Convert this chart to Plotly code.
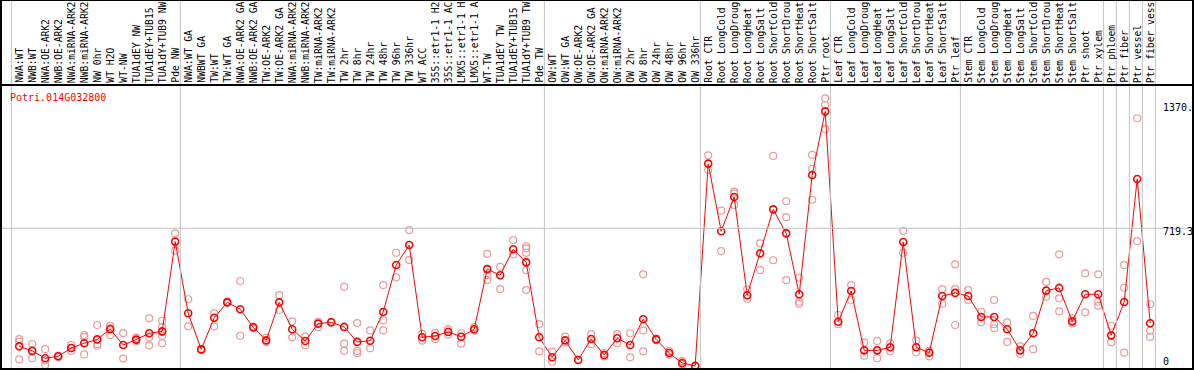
import plotly.graph_objects as go

title_text = "Potri.014G032800"

categories = [
    "NWA:WT", "NWB:WT", "NWA:OE-ARK2", "NWB:OE-ARK2", "NWA:miRNA-ARK2", "NWB:miRNA-ARK2",
    "NW 0hr", "WT H2O", "WT-NW", "TUA1dEY NW", "TUA1dEY+TUB15", "TUA1dY+TUB9 NW", "Pde NW",
    "NWA:WT GA", "NWBWT GA", "TW:WT", "TW:WT GA", "NWA:OE-ARK2 GA", "NWB:OE-ARK2 GA",
    "TW:OE-ARK2", "TW:OE-ARK2 GA", "NWA:miRNA-ARK2", "NWB:miRNA-ARK2", "TW:miRNA-ARK2",
    "TW:miRNA-ARK2", "TW 2hr", "TW 8hr", "TW 24hr", "TW 48hr", "TW 96hr", "TW 336hr",
    "WT ACC", "35S::etr1-1 H2", "35S::etr1-1 AC", "LMX5::etr1-1 H", "LMX5::etr1-1 A",
    "WT-TW", "TUA1dEY TW", "TUA1dEY+TUB15", "TUA1dY+TUB9 TW", "Pde TW",
    "OW:WT", "OW:WT GA", "OW:OE-ARK2", "OW:OE-ARK2 GA", "OW:miRNA-ARK2", "OW:miRNA-ARK2",
    "OW 2hr", "OW 8hr", "OW 24hr", "OW 48hr", "OW 96hr", "OW 336hr",
    "Root CTR", "Root LongCold", "Root LongDroug", "Root LongHeat", "Root LongSalt",
    "Root ShortCold", "Root ShortDrou", "Root ShortHeat", "Root ShortSalt", "Ptr root",
    "Leaf CTR", "Leaf LongCold", "Leaf LongDroug", "Leaf LongHeat", "Leaf LongSalt",
    "Leaf ShortCold", "Leaf ShortDrou", "Leaf ShortHeat", "Leaf ShortSalt", "Ptr leaf",
    "Stem CTR", "Stem LongCold", "Stem LongDroug", "Stem LongHeat", "Stem LongSalt",
    "Stem ShortCold", "Stem ShortDrou", "Stem ShortHeat", "Stem ShortSalt", "Ptr shoot",
    "Ptr xylem", "Ptr phloem", "Ptr fiber", "Ptr vessel", "Ptr fiber vess",
]

mean_values = [
    105, 81, 43, 53, 96, 121, 141, 194, 112, 140, 173, 183, 650,
    277, 89, 254, 334, 298, 204, 136, 334, 194, 133, 223, 230, 206, 128, 134, 284,
    528, 632, 152, 159, 180, 155, 194, 507, 475, 610, 542, 152,
    48, 136, 34, 143, 60, 147, 112, 246, 141, 70, 18, 3,
    1056, 704, 882, 371, 589, 818, 693, 376, 997, 1328,
    233, 393, 84, 84, 100, 648, 100, 72, 367, 383,
    367, 258, 258, 194, 84, 173, 395, 409, 235, 376, 376, 162, 336, 976, 225,
]

replicate_values = [
    [143, 129, 37], [117, 43, 85], [90, 32, 8], [50, 57], [112, 81, 96], [164, 154, 63],
    [216, 117, 108], [212, 164, 200], [174, 41], [150, 138, 132], [251, 152, 110],
    [238, 207, 181, 160, 121], [693, 603],
    [350, 209], [92, 86], [278, 209], [330, 338], [445, 160], [208, 200], [150, 127],
    [372, 294], [235, 152], [155, 110], [233, 204], [232, 228], [414, 119, 81],
    [226, 81, 69], [188, 95], [424, 240, 188], [592, 464], [710, 554], [170, 135],
    [175, 143], [195, 166], [173, 119], [205, 187], [586, 476, 450], [519, 403],
    [658, 584], [626, 615, 592, 501, 398], [221, 79],
    [77, 25], [155, 125], [34], [168, 116], [70, 52], [168, 121], [173, 48],
    [480, 188, 79], [145, 137], [80, 62], [28, 12], [3],
    [1099, 1023], [811, 601], [910, 901, 841], [402, 353], [641, 502], [1096, 553],
    [860, 777, 450], [462, 337, 327], [1101, 1028, 868], [1396, 1361, 1236],
    [268, 220], [424, 346], [126, 56], [133, 43], [121, 79], [705, 592], [136, 74],
    [82, 53], [403, 327], [532, 403, 216],
    [398, 346], [285, 230], [346, 220, 199], [230, 128], [105, 65], [263, 90],
    [440, 363], [584, 355, 287], [251, 224], [485, 282], [480, 337, 316], [212, 126],
    [528, 410, 72], [1292, 653], [324, 188, 154],
]

# indices after which a grey separator line is drawn
separator_after = [-1, 12, 40, 52, 62, 72, 83, 84, 85, 86, 87]

y_tick_values = [1370.0, 719.3, 0]
y_tick_labels = ["1370.", "719.3", "0"]
y_tick_shift = [-4.4, -3.4, 4.8]

W, H = 1194, 370
MONO = "DejaVu Sans Mono"

x_idx = list(range(len(categories)))

rep_x, rep_y = [], []
for i, reps in enumerate(replicate_values):
    for v in reps:
        rep_x.append(i)
        rep_y.append(v)

fig = go.Figure()
fig.add_trace(go.Scatter(
    x=rep_x, y=rep_y, mode="markers",
    marker=dict(symbol="circle-open", size=7, color="#ec9a9a", line=dict(width=1.2)),
    hoverinfo="skip", cliponaxis=False,
))
fig.add_trace(go.Scatter(
    x=x_idx, y=mean_values, mode="lines+markers",
    line=dict(color="#ff0000", width=1),
    marker=dict(symbol="circle-open", size=7, color="#ff0000", line=dict(width=1.6)),
    cliponaxis=False,
))

shapes = []
for e in separator_after:
    shapes.append(dict(type="line", xref="x", yref="paper", x0=e + 0.4, x1=e + 0.4,
                       y0=1 - 369 / H, y1=1, line=dict(color="#c4c4c4", width=1)))
shapes.append(dict(type="line", xref="paper", yref="y", x0=0, x1=1, y0=719.3, y1=719.3,
                   line=dict(color="#c4c4c4", width=1)))
# frame
for (x0, y0, x1, y1) in [(1, 0, 1, 370), (1193, 0, 1193, 370), (0, 85, 1194, 85),
                         (0, 369, 1194, 369), (0, 0.5, 1194, 0.5)]:
    shapes.append(dict(type="line", xref="paper", yref="paper",
                       x0=x0 / W, x1=x1 / W, y0=1 - y0 / H, y1=1 - y1 / H,
                       line=dict(color="black", width=2 if y0 != 0.5 else 1)))

annotations = []
for i, c in enumerate(categories):
    annotations.append(dict(
        x=i, xref="x", y=1 - 84 / H, yref="paper", text=c, textangle=-90,
        showarrow=False, xanchor="center", yanchor="bottom",
        font=dict(family=MONO, size=9.7, color="black"), borderpad=0,
    ))
annotations.append(dict(
    x=9 / W, xref="paper", y=1 - 97.3 / H, yref="paper", text=title_text,
    showarrow=False, xanchor="left", yanchor="middle",
    font=dict(family=MONO, size=10, color="#ff0000"), borderpad=0,
))
for v, t, s in zip(y_tick_values, y_tick_labels, y_tick_shift):
    annotations.append(dict(
        x=1162 / W, xref="paper", y=v, yref="y", yshift=s, text=t,
        showarrow=False, xanchor="left", yanchor="middle",
        font=dict(family=MONO, size=10, color="black"), borderpad=0,
    ))

px_per_unit = (366.5 - 228.3) / 719.3
y_lo = (366.5 - H) / px_per_unit
y_hi = 366.5 / px_per_unit
x_lo = -19.2 / 13
x_hi = (W - 19.2) / 13

fig.update_layout(
    width=W, height=H, margin=dict(l=0, r=0, t=0, b=0, pad=0),
    paper_bgcolor="white", plot_bgcolor="white", showlegend=False,
    xaxis=dict(range=[x_lo, x_hi], visible=False, fixedrange=True),
    yaxis=dict(range=[y_lo, y_hi], visible=False, fixedrange=True),
    shapes=shapes, annotations=annotations,
)

fig.write_html(
    "out.html",
    config={"displayModeBar": False},
    post_script="document.body.style.margin='0px';document.body.style.overflow='hidden';",
)
